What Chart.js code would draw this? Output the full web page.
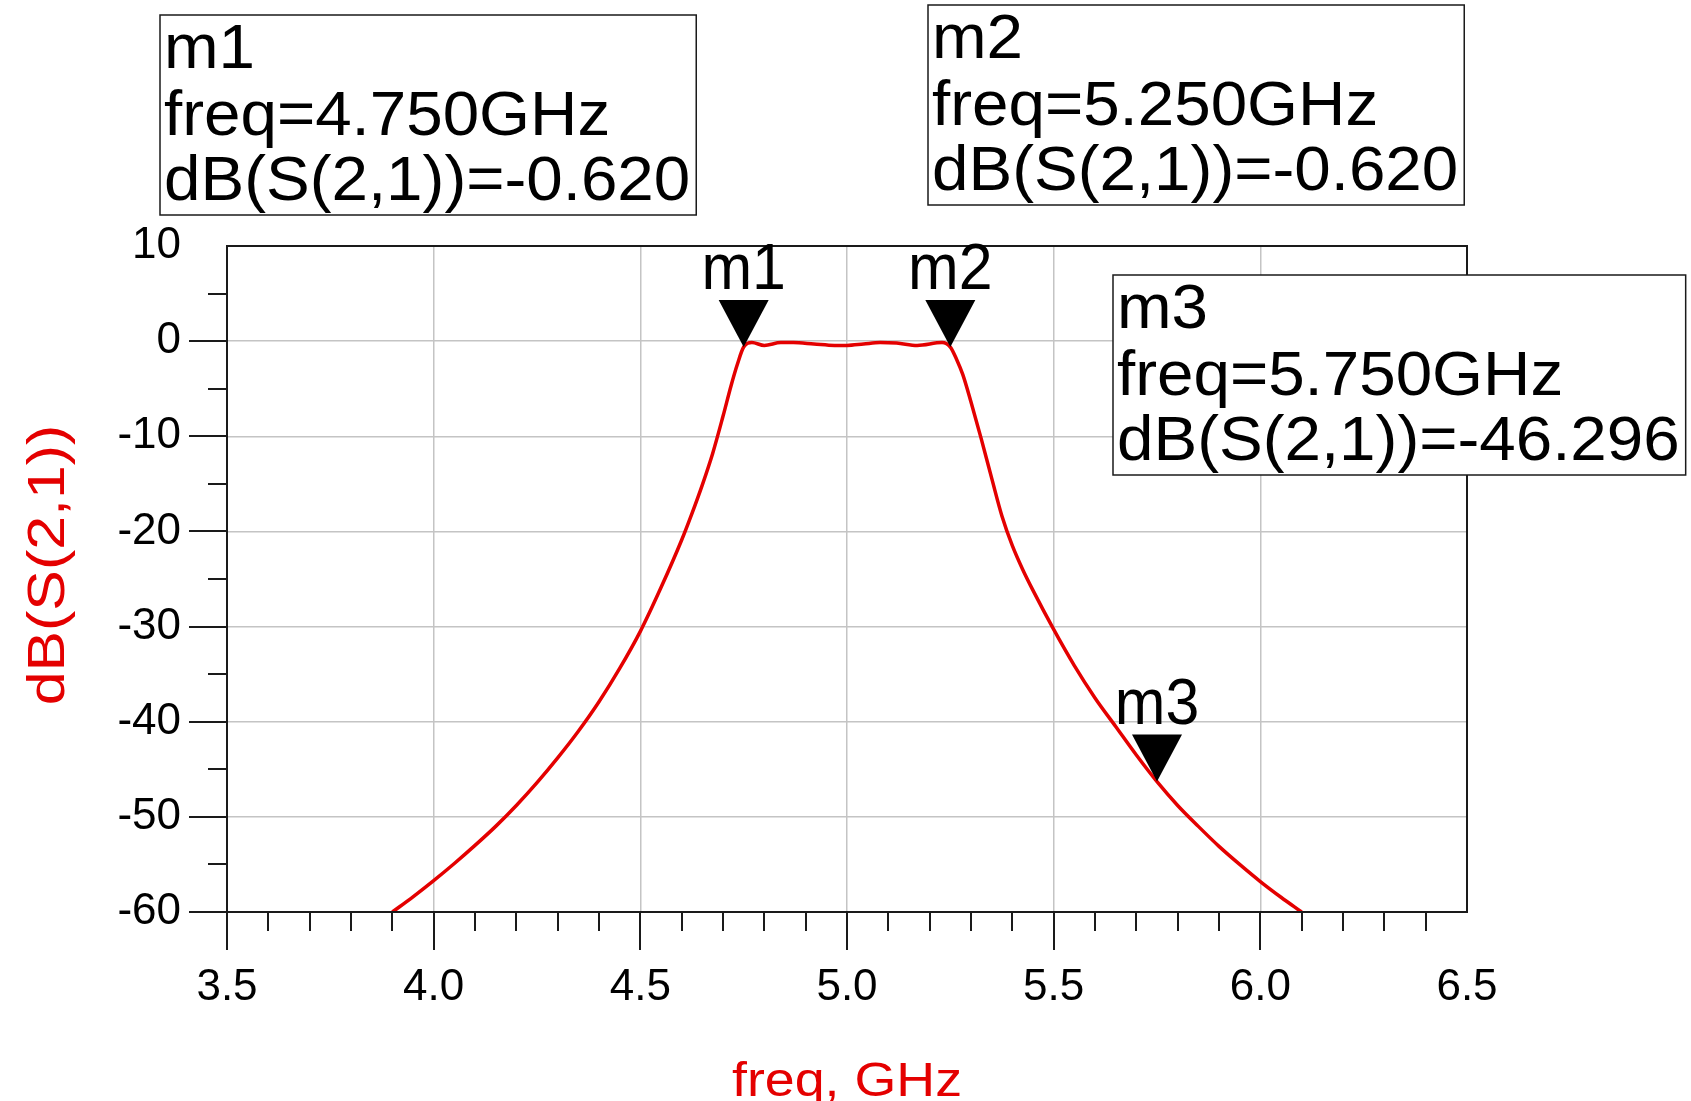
<!DOCTYPE html>
<html>
<head>
<meta charset="utf-8">
<title>dB(S(2,1)) vs freq</title>
<script src="https://cdn.jsdelivr.net/npm/chart.js@4.4.1/dist/chart.umd.min.js"></script>
<style>
  html, body { margin: 0; padding: 0; background: #fff; }
  #wrap { width: 1691px; height: 1101px; }
</style>
</head>
<body>
<div id="wrap"><canvas id="s21Chart" width="1691" height="1101"></canvas></div>
<script>
// S21 trace (GHz / dB)
const freqGHz = [3.90, 3.95, 4.00, 4.05, 4.10, 4.15, 4.20, 4.25, 4.30, 4.35, 4.40, 4.45, 4.50,
  4.55, 4.60, 4.625, 4.65, 4.675, 4.70, 4.72, 4.735, 4.75, 4.77, 4.80, 4.84, 4.87, 4.92, 4.97,
  5.00, 5.04, 5.08, 5.12, 5.17, 5.23, 5.25, 5.265, 5.28, 5.30, 5.325, 5.35, 5.375, 5.40, 5.425,
  5.45, 5.50, 5.55, 5.60, 5.65, 5.70, 5.75, 5.80, 5.85, 5.90, 5.95, 6.00, 6.05, 6.10];
const s21dB = [-60.0, -58.4, -56.7, -54.9, -53.0, -51.0, -48.8, -46.4, -43.8, -41.0, -37.9, -34.4, -30.5,
  -25.9, -20.9, -18.1, -15.1, -11.8, -7.9, -4.6, -2.4, -0.62, -0.15, -0.45, -0.15, -0.15, -0.3, -0.45,
  -0.45, -0.3, -0.15, -0.2, -0.45, -0.15, -0.62, -1.9, -3.5, -6.4, -10.3, -14.4, -18.4, -21.5, -24.0,
  -26.2, -30.3, -34.1, -37.5, -40.5, -43.5, -46.3, -48.8, -51.0, -53.1, -55.0, -56.8, -58.45, -60.0];

// markers
const markerNames = ['m1', 'm2', 'm3'];
const markerFreq = [4.750, 5.250, 5.750];
const markerDB = [-0.620, -0.620, -46.296];

// axes
const xRange = [3.5, 6.5];
const yRange = [-60, 10];
const xMajorStep = 0.5, xMinorStep = 0.1;
const yMajorStep = 10, yMinorStep = 5;
const xTitle = 'freq, GHz';
const yTitle = 'dB(S(2,1))';

const RED = 'rgb(228,0,0)';
const GRID = '#c4c4c4';
const FONT = '"Liberation Sans", Arial, sans-serif';

// where the readout boxes sit (top-left corners)
const boxPos = [[160, 15], [928, 5], [1113, 275]];

function stretchedText(ctx, txt, x, y, sx) {
  ctx.save();
  ctx.translate(x, y);
  ctx.scale(sx, 1);
  ctx.fillText(txt, 0, 0);
  ctx.restore();
}

const adsDecor = {
  id: 'adsDecor',
  afterDraw(chart) {
    const ctx = chart.ctx;
    const area = chart.chartArea;
    const xs = chart.scales.x, ys = chart.scales.y;
    ctx.save();

    // plot frame
    ctx.strokeStyle = '#1a1a1a';
    ctx.lineWidth = 2;
    ctx.strokeRect(area.left, area.top, area.right - area.left, area.bottom - area.top);

    // x ticks below the axis
    const nx = Math.round((xRange[1] - xRange[0]) / xMinorStep);
    for (let i = 0; i < nx; i++) {
      const v = xRange[0] + i * xMinorStep;
      const major = Math.abs(v / xMajorStep - Math.round(v / xMajorStep)) < 1e-6;
      const px = Math.round(xs.getPixelForValue(v));
      ctx.beginPath();
      ctx.moveTo(px, area.bottom);
      ctx.lineTo(px, area.bottom + (major ? 38 : 19));
      ctx.stroke();
    }
    // y ticks left of the axis
    const ny = Math.round((yRange[1] - yRange[0]) / yMinorStep);
    for (let i = 0; i < ny; i++) {
      const v = yRange[0] + i * yMinorStep;
      const major = v % yMajorStep === 0;
      const py = Math.round(ys.getPixelForValue(v));
      ctx.beginPath();
      ctx.moveTo(area.left, py);
      ctx.lineTo(area.left - (major ? 38 : 19), py);
      ctx.stroke();
    }

    // marker triangles + names
    ctx.fillStyle = '#000';
    ctx.textAlign = 'center';
    ctx.textBaseline = 'alphabetic';
    ctx.font = '64px ' + FONT;
    markerNames.forEach((name, i) => {
      const px = xs.getPixelForValue(markerFreq[i]);
      const py = ys.getPixelForValue(markerDB[i]);
      ctx.beginPath();
      ctx.moveTo(px, py);
      ctx.lineTo(px - 25, py - 47);
      ctx.lineTo(px + 25, py - 47);
      ctx.closePath();
      ctx.fill();
      ctx.save();
      ctx.translate(px, py - 58);
      ctx.scale(0.95, 1);
      ctx.fillText(name, 0, 0);
      ctx.restore();
    });

    // readout boxes
    const sx = 1.04;
    ctx.textAlign = 'left';
    ctx.font = '63px ' + FONT;
    markerNames.forEach((name, i) => {
      const lines = [
        name,
        'freq=' + markerFreq[i].toFixed(3) + 'GHz',
        'dB(S(2,1))=' + markerDB[i].toFixed(3)
      ];
      const w = Math.max(...lines.map(t => ctx.measureText(t).width)) * sx + 10;
      const h = 200;
      const [bx, by] = boxPos[i];
      ctx.fillStyle = '#fff';
      ctx.fillRect(bx, by, w, h);
      ctx.strokeStyle = '#1a1a1a';
      ctx.lineWidth = 1.5;
      ctx.strokeRect(bx, by, w, h);
      ctx.fillStyle = '#000';
      [53, 120, 185].forEach((dy, k) => stretchedText(ctx, lines[k], bx + 4, by + dy, sx));
    });

    // axis titles
    ctx.fillStyle = RED;
    ctx.textAlign = 'center';
    ctx.font = '48px ' + FONT;
    stretchedText(ctx, xTitle, (area.left + area.right) / 2, 1096, 1.12);

    ctx.save();
    ctx.translate(64, 565);
    ctx.rotate(-Math.PI / 2);
    ctx.font = '52px ' + FONT;
    stretchedText(ctx, yTitle, 0, 0, 1.17);
    ctx.restore();

    ctx.restore();
  }
};

const isEdge = (v, range) => Math.abs(v - range[0]) < 1e-6 || Math.abs(v - range[1]) < 1e-6;

new Chart(document.getElementById('s21Chart'), {
  type: 'line',
  data: {
    datasets: [{
      label: yTitle,
      data: freqGHz.map((f, i) => ({ x: f, y: s21dB[i] })),
      borderColor: RED,
      borderWidth: 3.5,
      pointRadius: 0,
      cubicInterpolationMode: 'monotone',
      fill: false
    }]
  },
  options: {
    responsive: false,
    animation: false,
    devicePixelRatio: 1,
    layout: { padding: { left: 0, top: 246, right: 224, bottom: 0 } },
    plugins: { legend: { display: false }, tooltip: { enabled: false } },
    scales: {
      x: {
        type: 'linear',
        min: xRange[0], max: xRange[1],
        afterFit: s => { s.height = 189; },
        border: { display: false },
        grid: {
          drawTicks: false,
          lineWidth: 1.5,
          color: c => isEdge(c.tick.value, xRange) ? 'rgba(0,0,0,0)' : GRID
        },
        ticks: {
          stepSize: xMajorStep,
          autoSkip: false,
          maxRotation: 0,
          padding: 49,
          color: '#000',
          font: { family: FONT, size: 44 },
          callback: v => Number(v).toFixed(1)
        }
      },
      y: {
        min: yRange[0], max: yRange[1],
        afterFit: s => { s.width = 227; },
        border: { display: false },
        grid: {
          drawTicks: false,
          lineWidth: 1.5,
          color: c => isEdge(c.tick.value, yRange) ? 'rgba(0,0,0,0)' : GRID
        },
        ticks: {
          stepSize: yMajorStep,
          padding: 46,
          color: '#000',
          font: { family: FONT, size: 44 }
        }
      }
    }
  },
  plugins: [adsDecor]
});
</script>
</body>
</html>
